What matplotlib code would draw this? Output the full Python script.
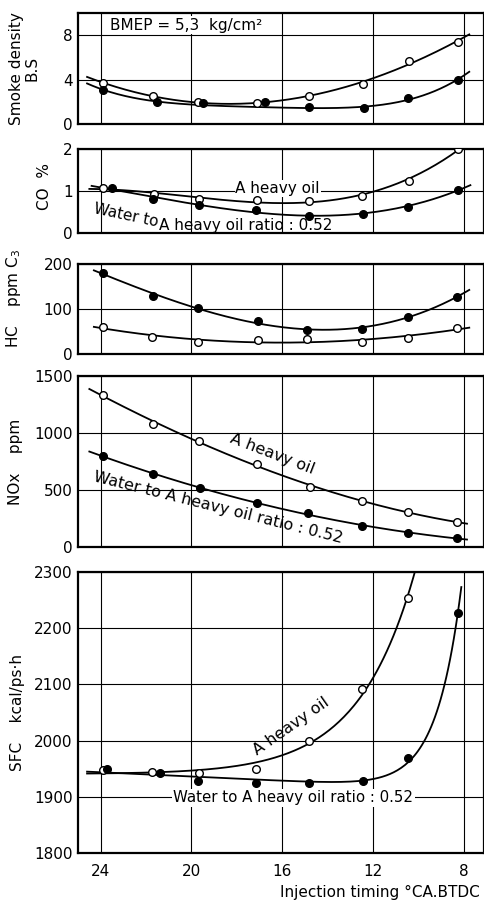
import numpy as np
import matplotlib
matplotlib.use("Agg")
import matplotlib.pyplot as plt

# injection timing (deg CA BTDC) and values, open = A heavy oil, filled = water emulsion 0.52
smoke_x_open = [23.9, 21.7, 19.7, 17.1, 14.8, 12.45, 10.4, 8.25]
smoke_open = [3.7, 2.5, 2.0, 1.9, 2.5, 3.6, 5.7, 7.4]
smoke_x_fill = [23.9, 21.5, 19.5, 16.75, 14.8, 12.4, 10.45, 8.25]
smoke_fill = [3.1, 2.0, 1.85, 2.0, 1.5, 1.4, 2.3, 4.0]
# the hand-drawn fit in the original ignores the two middle filled points
smoke_fill_weight = [1, 1, 0.15, 0.15, 1, 1, 1, 1]

co_x_open = [23.9, 21.65, 19.65, 17.1, 14.8, 12.5, 10.4, 8.25]
co_open = [1.07, 0.92, 0.8, 0.79, 0.77, 0.88, 1.25, 2.0]
co_x_fill = [23.5, 21.7, 19.65, 17.15, 14.8, 12.45, 10.45, 8.25]
co_fill = [1.07, 0.8, 0.66, 0.55, 0.4, 0.46, 0.62, 1.03]

hc_x_open = [23.9, 21.75, 19.7, 17.05, 14.9, 12.5, 10.45, 8.3]
hc_open = [60, 38, 27, 31, 33, 27, 35, 58]
hc_x_fill = [23.9, 21.7, 19.7, 17.05, 14.9, 12.5, 10.45, 8.3]
hc_fill = [180, 129, 102, 73, 53, 56, 83, 127]

nox_x_open = [23.9, 21.7, 19.65, 17.1, 14.75, 12.5, 10.45, 8.3]
nox_open = [1333, 1079, 930, 728, 526, 403, 307, 219]
nox_x_fill = [23.9, 21.7, 19.6, 17.1, 14.85, 12.5, 10.45, 8.3]
nox_fill = [798, 640, 517, 386, 298, 184, 123, 79]

sfc_x_open = [23.9, 21.75, 19.65, 17.15, 14.8, 12.5, 10.45]
sfc_open = [1948, 1944, 1942, 1949, 1999, 2092, 2254]
sfc_x_fill = [23.7, 21.4, 19.7, 17.15, 14.8, 12.45, 10.45, 8.25]
sfc_fill = [1949, 1942, 1928, 1925, 1925, 1928, 1969, 2227]

xticks = [24, 20, 16, 12, 8]

plt.rcParams['font.family'] = ['DejaVu Sans']
plt.rcParams['font.size'] = 11


def poly_curve(xs, ys, x0, x1, deg=3, w=None):
    c = np.polyfit(xs, ys, deg, w=w)
    xx = np.linspace(x0, x1, 200)
    return xx, np.polyval(c, xx)


def exp_curve(xs, ys, x0, x1, k):
    # smooth fit y = a + b*x + c*exp(-k*(x-8)) for the steep SFC rise
    xs = np.asarray(xs, float)
    A = np.column_stack([np.ones_like(xs), xs, np.exp(-k * (xs - 8))])
    coef = np.linalg.lstsq(A, np.asarray(ys, float), rcond=None)[0]
    xx = np.linspace(x0, x1, 200)
    return xx, coef[0] + coef[1] * xx + coef[2] * np.exp(-k * (xx - 8))


fig = plt.figure(figsize=(4.85, 9.07), dpi=100)

W = 485.0
H = 907.0
left = 78 / W
width = 406 / W
# panel pixel tops/bottoms
boxes = [(13, 124), (149, 233), (264, 354), (376, 547), (572, 853)]
axes = []
for top, bot in boxes:
    ax = fig.add_axes([left, 1 - bot / H, width, (bot - top) / H])
    axes.append(ax)

ylims = [(0, 10), (0, 2), (0, 200), (0, 1500), (1800, 2300)]
yticks = [[0, 4, 8], [0, 1, 2], [0, 100, 200], [0, 500, 1000, 1500],
          [1800, 1900, 2000, 2100, 2200, 2300]]
ylabels = ["Smoke density\nB.S", "CO  %", "HC    ppm C$_3$", "NOx    ppm",
           "SFC    kcal/ps·h"]
label_pos = [(-0.095, 0.5), (-0.065, 0.55), (-0.135, 0.62), (-0.135, 0.5), (-0.13, 0.5)]

for ax, yl, yt, lab, lp in zip(axes, ylims, yticks, ylabels, label_pos):
    ax.set_xlim(25.0, 7.1)
    ax.set_ylim(*yl)
    ax.set_xticks(xticks)
    ax.set_yticks(yt)
    ax.grid(True, color='black', linewidth=0.8)
    ax.set_axisbelow(True)
    ax.tick_params(length=0, pad=4)
    for s in ax.spines.values():
        s.set_linewidth(1.6)
    ax.set_ylabel(lab, fontsize=11, linespacing=1.0)
    ax.yaxis.set_label_coords(*lp)
    if ax is not axes[-1]:
        ax.tick_params(labelbottom=False)

axes[-1].tick_params(axis='x', pad=8)

mk_open = dict(marker='o', ms=5.5, mfc='white', mec='black', mew=1.0, ls='none', zorder=4)
mk_fill = dict(marker='o', ms=5.5, mfc='black', mec='black', ls='none', zorder=4)
ln = dict(color='black', lw=1.3, zorder=3)

# smoke
ax = axes[0]
ax.plot(*poly_curve(smoke_x_open, smoke_open, 24.6, 7.75), **ln)
ax.plot(*poly_curve(smoke_x_fill, smoke_fill, 24.6, 7.75, deg=4, w=smoke_fill_weight), **ln)
ax.plot(smoke_x_open, smoke_open, **mk_open)
ax.plot(smoke_x_fill, smoke_fill, **mk_fill)
ax.text(23.6, 8.9, "BMEP = 5,3  kg/cm²", fontsize=11, va='center', ha='left',
        bbox=dict(facecolor='white', edgecolor='none', pad=1), zorder=2)

# CO
ax = axes[1]
ax.plot(*poly_curve(co_x_open, co_open, 24.5, 7.9), **ln)
ax.plot(*poly_curve(co_x_fill, co_fill, 24.4, 7.7), **ln)
ax.plot(co_x_open, co_open, **mk_open)
ax.plot(co_x_fill, co_fill, **mk_fill)
ax.text(16.2, 1.06, "A heavy oil", fontsize=11, ha='center', va='center',
        bbox=dict(facecolor='white', edgecolor='none', pad=0.5), zorder=2)
ax.text(22.9, 0.43, "Water to", fontsize=11, ha='center', va='center', rotation=-12)
ax.text(17.6, 0.19, "A heavy oil ratio : 0.52", fontsize=11, ha='center', va='center')

# HC
ax = axes[2]
ax.plot(*poly_curve(hc_x_fill, hc_fill, 24.3, 7.75), **ln)
ax.plot(*poly_curve(hc_x_open, hc_open, 24.3, 7.75), **ln)
ax.plot(hc_x_open, hc_open, **mk_open)
ax.plot(hc_x_fill, hc_fill, **mk_fill)

# NOx
ax = axes[3]
ax.plot(*poly_curve(nox_x_open, nox_open, 24.5, 7.85), **ln)
ax.plot(*poly_curve(nox_x_fill, nox_fill, 24.5, 7.85), **ln)
ax.plot(nox_x_open, nox_open, **mk_open)
ax.plot(nox_x_fill, nox_fill, **mk_fill)
ax.text(16.45, 820, "A heavy oil", fontsize=11.5, ha='center', va='center', rotation=-21)
ax.text(18.8, 345, "Water to A heavy oil ratio : 0.52", fontsize=11.5, ha='center',
        va='center', rotation=-14)

# SFC
ax = axes[4]
ax.plot(*exp_curve(sfc_x_open, sfc_open, 24.6, 10.15, 0.4), **ln)
ax.plot(*exp_curve(sfc_x_fill, sfc_fill, 24.6, 8.1, 0.9), **ln)
ax.plot(sfc_x_open, sfc_open, **mk_open)
ax.plot(sfc_x_fill, sfc_fill, **mk_fill)
ax.text(15.6, 2025, "A heavy oil", fontsize=11.5, ha='center', va='center', rotation=35)
ax.text(15.5, 1898, "Water to A heavy oil ratio : 0.52", fontsize=10.8, ha='center',
        va='center', bbox=dict(facecolor='white', edgecolor='none', pad=1), zorder=2)

fig.text(480 / W, 1 - 892 / H, "Injection timing °CA.BTDC", ha='right', va='center',
         fontsize=11)

fig.savefig("out.png", dpi=100)
